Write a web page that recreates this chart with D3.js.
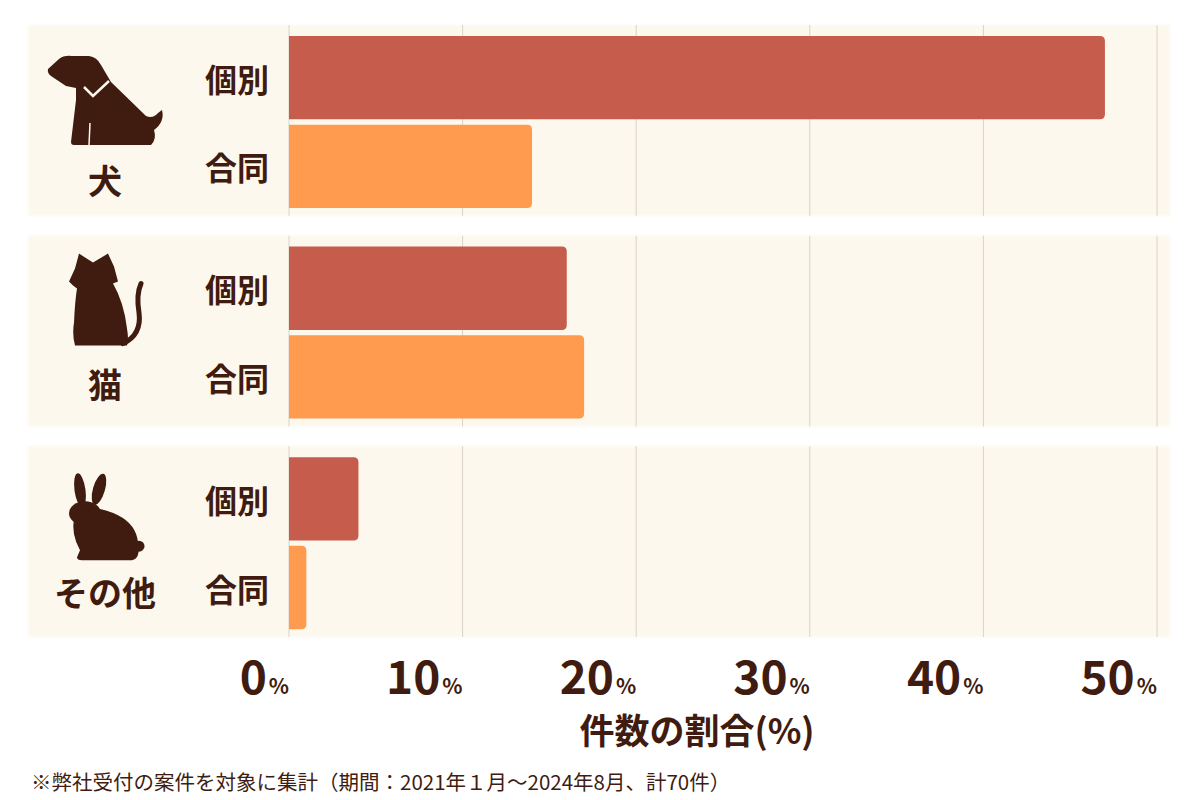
<!DOCTYPE html>
<html>
<head>
<meta charset="utf-8">
<script src="https://cdn.jsdelivr.net/npm/d3@7"></script>
<style>
  body { margin: 0; background: #fff; }
  svg { display: block; font-family: "Noto Sans CJK JP", "Noto Sans", sans-serif; }
</style>
</head>
<body>
<div id="chart"></div>
<script>
var width = 1200;
var height = 800;
var textColor = '#3f1c0f';
var panelColor = '#fdf8ed';
var gridColor = '#d9d2c8';

// data (% of cases)
var groups = ['犬', '猫', 'その他'];
var seriesNames = ['個別', '合同'];
var individualValues = [47, 16, 4];   // 個別 (dog, cat, other)
var jointValues = [14, 17, 1];        // 合同 (dog, cat, other)
var tickValues = [0, 10, 20, 30, 40, 50];
var axisTitle = '件数の割合(%)';
var footnote = '※弊社受付の案件を対象に集計（期間：2021年１月～2024年8月、計70件）';

var seriesColors = { '個別': '#c65c4b', '合同': '#fe9b4e' };

// build rows from the arrays
var rows = [];
groups.forEach(function(g, i) {
  rows.push({ group: g, series: '個別', value: individualValues[i] });
  rows.push({ group: g, series: '合同', value: jointValues[i] });
});

var svg = d3.select('#chart')
  .append('svg')
  .attr('width', width)
  .attr('height', height);

var defs = svg.append('defs');
defs.append('filter')
  .attr('id', 'soft')
  .attr('x', '-2%').attr('y', '-5%').attr('width', '104%').attr('height', '110%')
  .append('feGaussianBlur')
  .attr('stdDeviation', 1.5);

var x = d3.scaleLinear().domain([0, 50]).range([289, 1157]);
var yGroup = d3.scaleBand().domain(groups).range([25, 637]).paddingInner(0.094).paddingOuter(0);
var ySeries = d3.scaleBand().domain(seriesNames).range([11, 183]).paddingInner(0.06);

// icons: silhouettes drawn in local coordinates
var icons = {
  '犬': { dx: 47, dy: 30, labelDy: 154, draw: function(g) {
    g.append('path')
      .attr('d', 'M1,14 L12,4 Q17,0 25,1 L42,1 Q50,2 54,10 L64,27 L99,61 Q106,64 111,58 L115,55 Q118,67 107,75 Q110,84 104,90 L27,90 Q24,90 24,87 L29,45 L29,33 L19,31 L4,21 Q0,18 1,14 Z')
      .attr('fill', textColor);
    g.append('path')
      .attr('d', 'M43,68 L42,90')
      .attr('stroke', panelColor).attr('stroke-width', 1.5).attr('fill', 'none');
    g.append('path')
      .attr('d', 'M37,32 L46,41 L62,26')
      .attr('stroke', panelColor).attr('stroke-width', 2.5).attr('fill', 'none');
  }},
  '猫': { dx: 69, dy: 17, labelDy: 148, draw: function(g) {
    g.append('path')
      .attr('d', 'M10,1 L24,10 L39,1 L45,14 L49,29 L44,31 Q55,50 58,76 Q60,88 58,93 L6,93 Q3,82 5,70 Q6,48 8,36 L4,33 L0,29 L6,16 Z')
      .attr('fill', textColor);
    g.append('path')
      .attr('d', 'M54,91 Q73,82 70,60 Q67,42 72,31')
      .attr('stroke', textColor).attr('stroke-width', 5).attr('stroke-linecap', 'round').attr('fill', 'none');
  }},
  'その他': { dx: 68, dy: 26, labelDy: 145, draw: function(g) {
    g.append('ellipse').attr('cx', 12).attr('cy', 18).attr('rx', 5.5).attr('ry', 17)
      .attr('transform', 'rotate(-8,12,18)').attr('fill', textColor);
    g.append('ellipse').attr('cx', 31).attr('cy', 17).attr('rx', 6).attr('ry', 16)
      .attr('transform', 'rotate(16,31,17)').attr('fill', textColor);
    g.append('ellipse').attr('cx', 17).attr('cy', 41).attr('rx', 16).attr('ry', 12).attr('fill', textColor);
    g.append('path')
      .attr('d', 'M6,46 Q3,62 12,78 L9,85 Q9,88 14,88 L64,88 Q73,86 70,70 Q68,52 50,43 Q38,37 26,36 Z')
      .attr('fill', textColor);
    g.append('circle').attr('cx', 71).attr('cy', 74).attr('r', 5.5).attr('fill', textColor);
  }}
};

// rounded right end only
function barPath(x0, y, w, h, r) {
  r = Math.min(r, w);
  return 'M' + x0 + ',' + y +
    'H' + (x0 + w - r) +
    'Q' + (x0 + w) + ',' + y + ' ' + (x0 + w) + ',' + (y + r) +
    'V' + (y + h - r) +
    'Q' + (x0 + w) + ',' + (y + h) + ' ' + (x0 + w - r) + ',' + (y + h) +
    'H' + x0 + 'Z';
}

var panels = svg.selectAll('g.panel')
  .data(groups)
  .enter().append('g')
  .attr('class', 'panel')
  .attr('transform', function(d) { return 'translate(0,' + yGroup(d) + ')'; });

panels.append('rect')
  .attr('x', 28)
  .attr('y', 0)
  .attr('width', 1142)
  .attr('height', yGroup.bandwidth())
  .attr('fill', panelColor)
  .attr('filter', 'url(#soft)');

// gridlines per panel
panels.selectAll('line.grid')
  .data(tickValues)
  .enter().append('line')
  .attr('class', 'grid')
  .attr('x1', function(d) { return x(d); })
  .attr('x2', function(d) { return x(d); })
  .attr('y1', 0)
  .attr('y2', yGroup.bandwidth())
  .attr('stroke', gridColor)
  .attr('stroke-width', 1);

// bars
panels.selectAll('path.bar')
  .data(function(g) { return rows.filter(function(r) { return r.group === g; }); })
  .enter().append('path')
  .attr('class', 'bar')
  .attr('d', function(d) {
    return barPath(x(0), ySeries(d.series), x(d.value) - x(0), ySeries.bandwidth(), 5);
  })
  .attr('fill', function(d) { return seriesColors[d.series]; });

// series labels
panels.selectAll('text.series')
  .data(seriesNames)
  .enter().append('text')
  .attr('class', 'series')
  .attr('x', x(0) - 20)
  .attr('y', function(d) { return ySeries(d) + ySeries.bandwidth() / 2; })
  .attr('text-anchor', 'end')
  .attr('dominant-baseline', 'central')
  .attr('font-size', 32)
  .attr('font-weight', 700)
  .attr('fill', textColor)
  .text(function(d) { return d; });

// icons and group labels
panels.each(function(g) {
  var p = d3.select(this);
  var ic = icons[g];
  var ig = p.append('g').attr('transform', 'translate(' + ic.dx + ',' + ic.dy + ')');
  ic.draw(ig);
  p.append('text')
    .attr('x', 105)
    .attr('y', ic.labelDy)
    .attr('text-anchor', 'middle')
    .attr('dominant-baseline', 'central')
    .attr('font-size', 34)
    .attr('font-weight', 700)
    .attr('fill', textColor)
    .text(g);
});

// x tick labels
var ticks = svg.selectAll('text.tick')
  .data(tickValues)
  .enter().append('text')
  .attr('class', 'tick')
  .attr('x', function(d) { return x(d); })
  .attr('y', 694)
  .attr('text-anchor', 'end')
  .attr('fill', textColor)
  .attr('font-weight', 700);
ticks.append('tspan').attr('font-size', 46).text(function(d) { return d; });
ticks.append('tspan').attr('font-size', 21).attr('dx', 2).text('%');

svg.append('text')
  .attr('x', 697)
  .attr('y', 744)
  .attr('text-anchor', 'middle')
  .attr('font-size', 35)
  .attr('font-weight', 700)
  .attr('fill', textColor)
  .text(axisTitle);

svg.append('text')
  .attr('x', 31)
  .attr('y', 790)
  .attr('font-size', 20.5)
  .attr('fill', textColor)
  .text(footnote);
</script>
</body>
</html>
